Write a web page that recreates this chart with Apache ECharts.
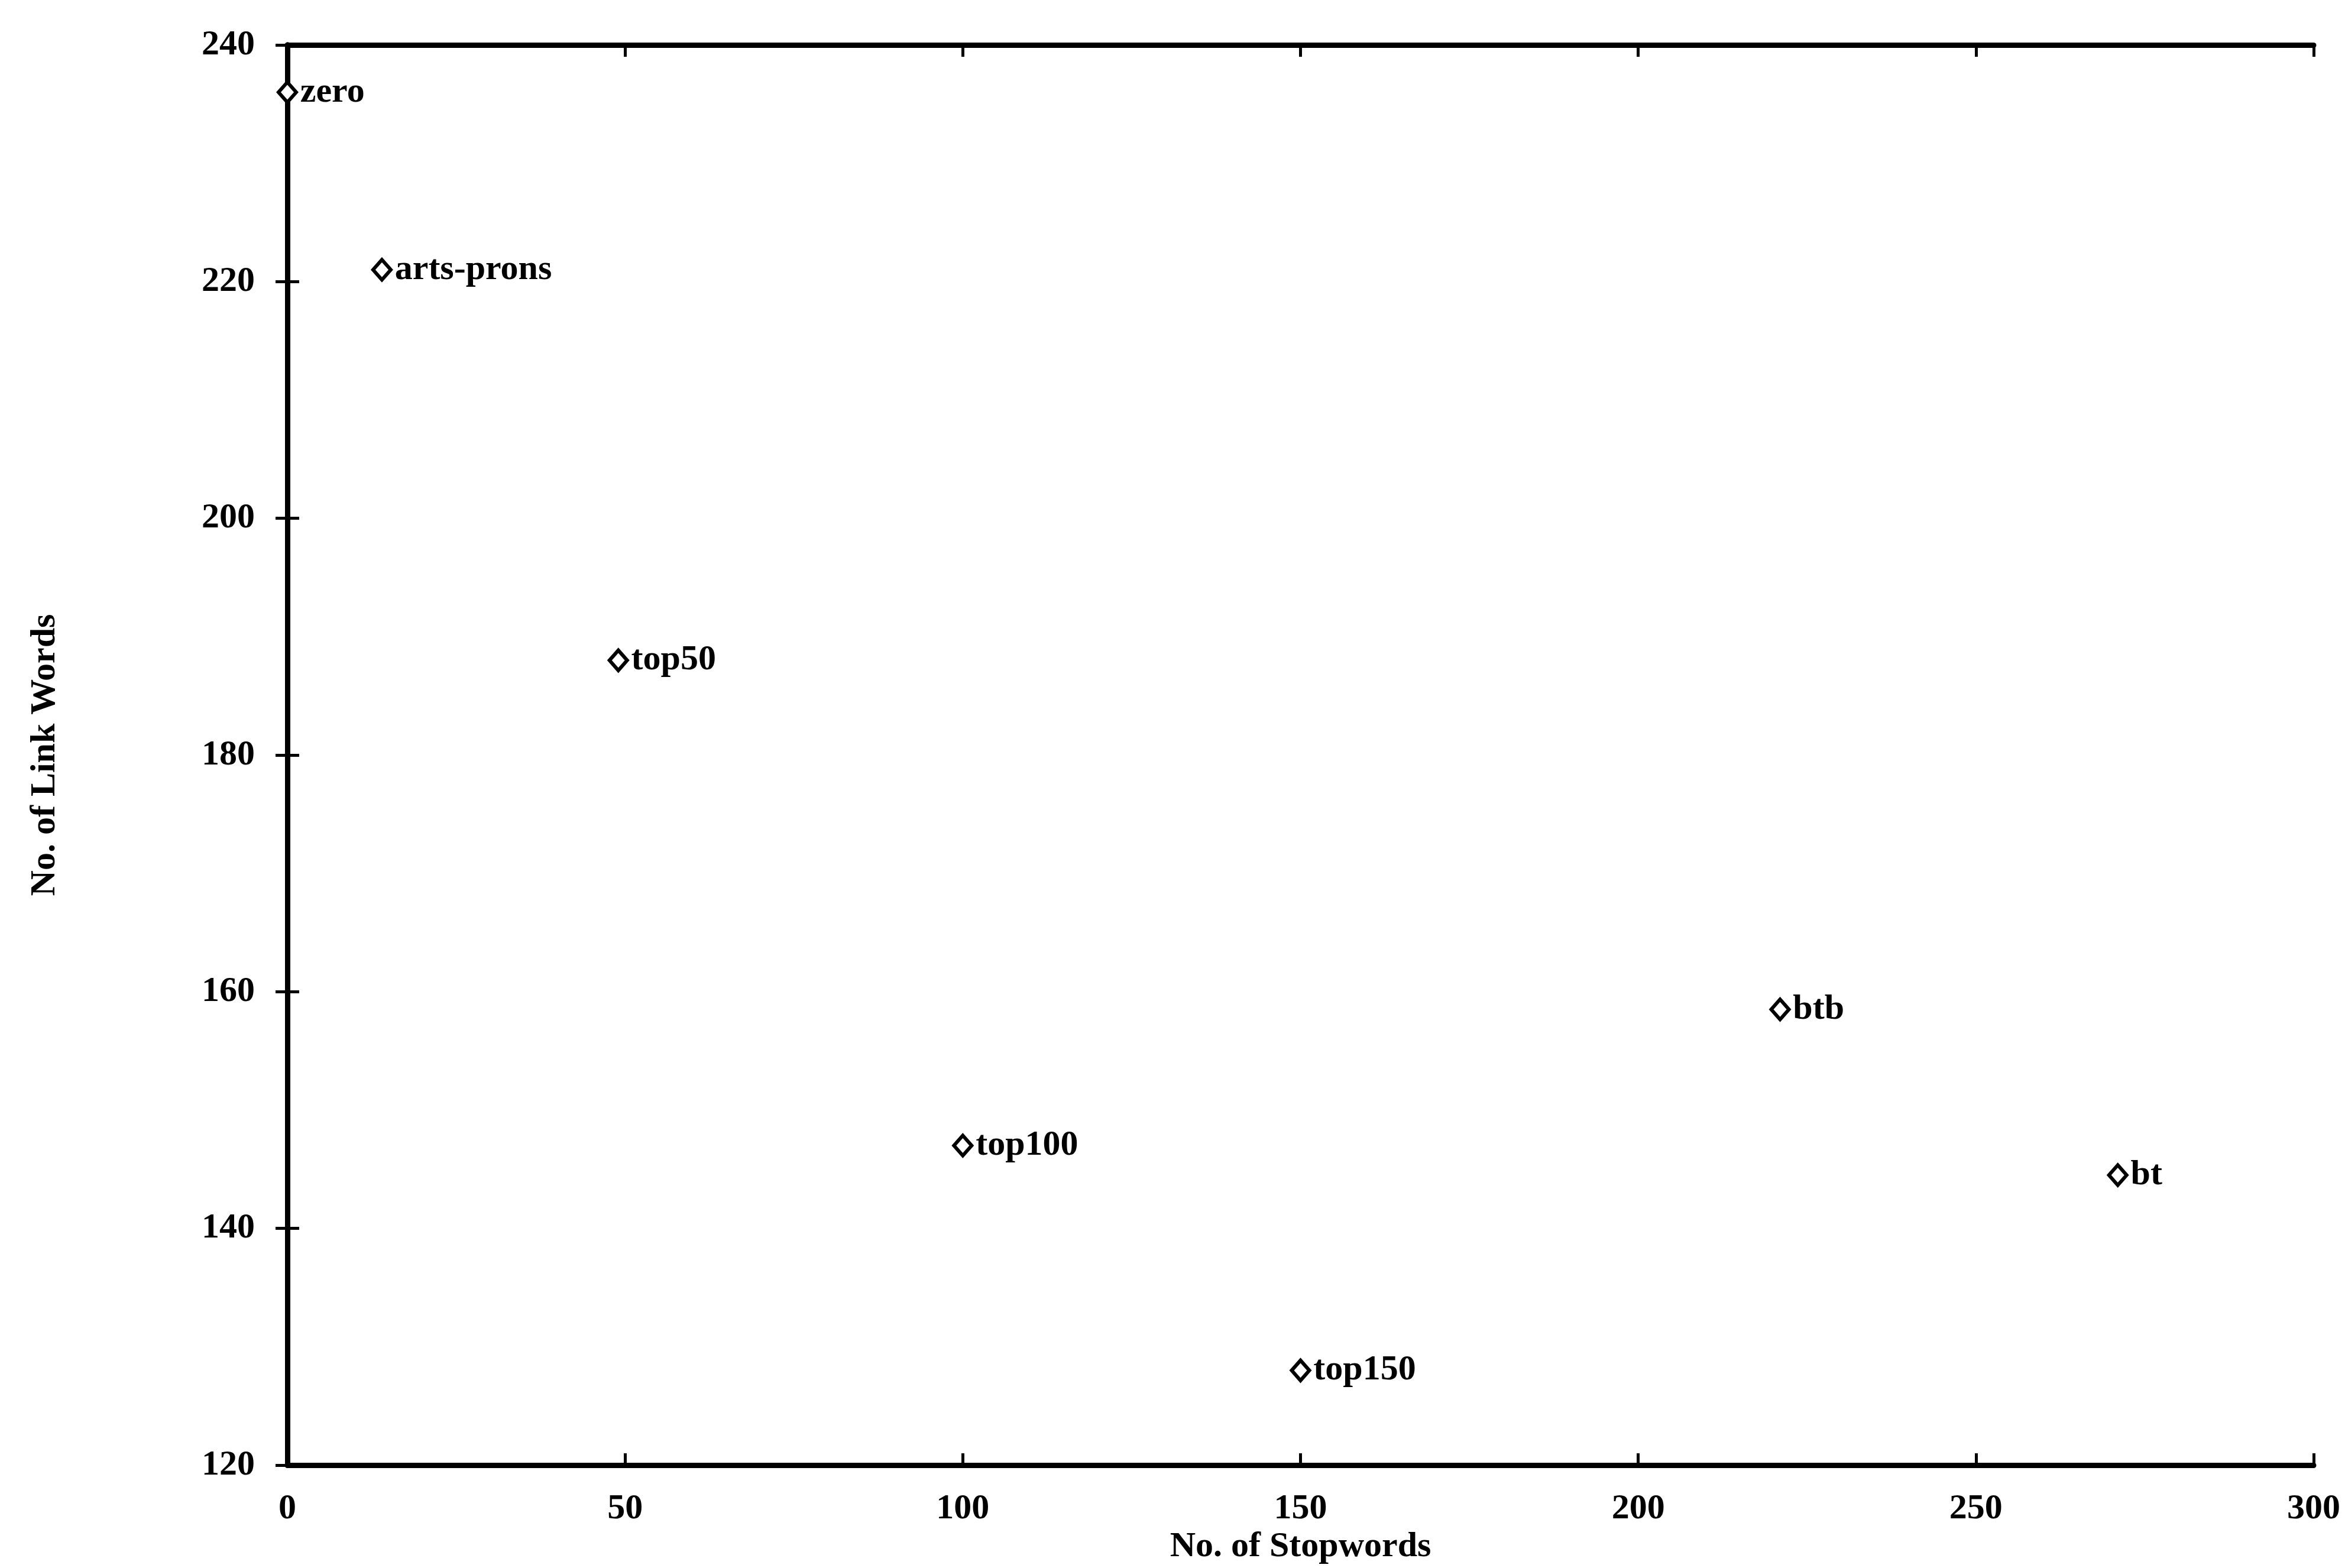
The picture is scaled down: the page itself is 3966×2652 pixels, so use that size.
<!DOCTYPE html>
<html>
<head>
<meta charset="utf-8">
<script src="https://cdn.jsdelivr.net/npm/echarts@6/dist/echarts.min.js"></script>
<style>
    html, body { margin: 0; padding: 0; background: #fff; }
    #chart { width: 3966px; height: 2652px; }
</style>
</head>
<body>
<div id="chart"></div>
<script>
var names = ['zero', 'arts-prons', 'top50', 'top100', 'top150', 'btb', 'bt'];
var stopwords = [0, 14, 49, 100, 150, 221, 271];
var linkWords = [236, 221, 188, 147, 128, 158.5, 144.5];

var xTicks = [0, 50, 100, 150, 200, 250, 300];
var yTicks = [120, 140, 160, 180, 200, 220, 240];

var font = 'Liberation Serif';

function points() {
    var out = [];
    for (var i = 0; i < names.length; i++) {
        out.push({ value: [stopwords[i], linkWords[i]], name: names[i] });
    }
    return out;
}

// frame side: same scale, ticks inside, optional labels
function frameAxis(pos, ticks, showLabel) {
    return {
        type: 'value',
        position: pos,
        min: ticks[0],
        max: ticks[ticks.length - 1],
        interval: ticks[1] - ticks[0],
        axisLine: { show: true, lineStyle: { color: '#000', width: 9 } },
        axisTick: { show: true, inside: true, length: 20, lineStyle: { color: '#000', width: 5 } },
        axisLabel: {
            show: showLabel,
            color: '#000',
            fontFamily: font,
            fontWeight: 'bold',
            fontSize: 60,
            margin: 55
        },
        splitLine: { show: false }
    };
}

var chart = echarts.init(document.getElementById('chart'));

var xBottom = frameAxis('bottom', xTicks, true);
xBottom.name = 'No. of Stopwords';
xBottom.nameLocation = 'middle';
xBottom.nameGap = 104;
xBottom.nameTextStyle = { color: '#000', fontFamily: font, fontWeight: 'bold', fontSize: 60 };
xBottom.axisLabel.margin = 44;

var yLeft = frameAxis('left', yTicks, true);
yLeft.name = 'No. of Link Words';
yLeft.nameLocation = 'middle';
yLeft.nameGap = 380;
yLeft.nameTextStyle = { color: '#000', fontFamily: font, fontWeight: 'bold', fontSize: 60 };

chart.setOption({
    backgroundColor: '#fff',
    animation: false,
    grid: { left: 486, right: 53, top: 76, bottom: 174 },
    xAxis: [xBottom, frameAxis('top', xTicks, false)],
    yAxis: [yLeft, frameAxis('right', yTicks, false)],
    series: [{
        type: 'scatter',
        xAxisIndex: 0,
        yAxisIndex: 0,
        symbol: 'diamond',
        symbolSize: [30, 34],
        itemStyle: { color: '#fff', borderColor: '#000', borderWidth: 6, opacity: 1 },
        label: {
            show: true,
            position: 'right',
            distance: 4,
            formatter: '{b}',
            color: '#000',
            opacity: 1,
            fontFamily: font,
            fontWeight: 'bold',
            fontSize: 60
        },
        data: points()
    }]
});
</script>
</body>
</html>
